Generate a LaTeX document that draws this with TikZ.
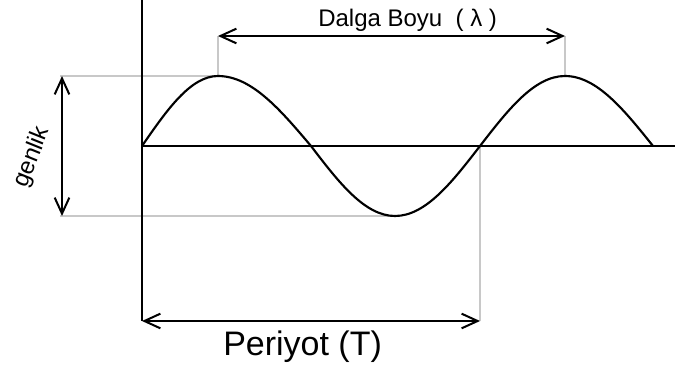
\documentclass[tikz,border=0pt]{standalone}
\usepackage{fontspec}
\setmainfont{Liberation Sans}
\usetikzlibrary{arrows.meta}
\definecolor{wgrid}{HTML}{C8C8C8}
\tikzset{
  >={Straight Barb[length=12pt, width=11pt]},
  waxis/.style={black, line width=1.5pt},
  wwave/.style={black, line width=1.6pt},
  wguide/.style={wgrid, line width=0.9pt},
  wdim/.style={<->, black, line width=1.5pt},
  wlbl/.style={inner sep=0pt, font=\fontsize{18}{20}\selectfont},
  wbig/.style={inner sep=0pt, font=\fontsize{25.5}{28}\selectfont},
}
\begin{document}
\begin{tikzpicture}[x=0.75pt, y=-0.75pt]
  \useasboundingbox (0,0) rectangle (675,372);

  % axes and wave points
  \coordinate (top)  at (142,0);
  \coordinate (org)  at (142,146);
  \coordinate (bot)  at (142,321);
  \coordinate (xend) at (675,146);
  \coordinate (pk1)  at (218,76);
  \coordinate (z1)   at (311,146);
  \coordinate (tr)   at (395,216);
  \coordinate (z2)   at (480,146);
  \coordinate (pk2)  at (565,76);
  \coordinate (z3)   at (653,146);
  % dimension ends
  \coordinate (gtop) at (60,76);
  \coordinate (gbot) at (60,216);
  \coordinate (atop) at (62,76);
  \coordinate (abot) at (62,216);
  \coordinate (ltip) at (218,36);
  \coordinate (rtip) at (565,36);
  \coordinate (ptip) at (480,321);

  \draw[wguide] (gtop) -- (pk1) -- (ltip);
  \draw[wguide] (gbot) -- (tr);
  \draw[wguide] (pk2) -- (rtip);
  \draw[wguide] (z2) -- (ptip);

  \draw[waxis] (top) -- (bot);
  \draw[waxis] (org) -- (xend);

  \draw[wwave] (org) sin (pk1) cos (z1) sin (tr) cos (z2) sin (pk2) cos (z3);

  \draw[wdim] (atop) -- (abot);
  \draw[wdim] (ltip) -- (rtip);
  \draw[wdim] (bot) -- (ptip);

  \node[wlbl, anchor=base west] (dalga) at (318,26) {Dalga Boyu\ \ ( λ )};
  \node[wbig, anchor=base west] (periyot) at (223,355) {Periyot (T)};
  \node[wlbl, rotate=68] (genlik) at (32,157) {genlik};

\end{tikzpicture}
\end{document}
